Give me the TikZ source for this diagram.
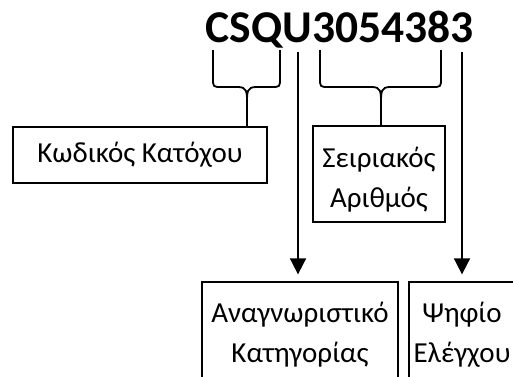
\documentclass[tikz,border=0pt]{standalone}
\usepackage{fontspec}
\setmainfont{Carlito}
\usetikzlibrary{arrows.meta}
\tikzset{
  lbl/.style={font=\fontsize{29}{40}\selectfont, align=center, inner sep=0pt},
  box/.style={draw, line width=1.3pt, inner sep=0pt},
  brace/.style={line width=1.8pt},
  arr/.style={line width=1.8pt, -{Triangle[length=16pt,width=16pt]}},
}
\begin{document}
\begin{tikzpicture}[x=1pt,y=-1pt]
\useasboundingbox (0,0) rectangle (513,376);
\clip (0,0) rectangle (513,376);
% title
\node[font=\fontsize{45.5}{50}\selectfont\bfseries, anchor=base, inner sep=0pt] (title) at (339.5,42) {CSQU3054383};
% boxes
\node[box, minimum width=254pt, minimum height=56pt] (kod) at (140,155) {};
\node[lbl] (kodt) at (kod.center) {Κωδικός Κατόχου};
\node[box, minimum width=132pt, minimum height=96pt] (ser) at (379,174) {};
\node[lbl] (sert) at (379,180) {Σειριακός\\Αριθμός};
\node[box, minimum width=196pt, minimum height=140pt] (cat) at (300,352) {};
\node[lbl] (catt) at (300,335) {Αναγνωριστικό\\Κατηγορίας};
\node[box, minimum width=106pt, minimum height=140pt] (chk) at (462,352) {};
\node[lbl] (chkt) at (462,335) {Ψηφίο\\Ελέγχου};
% braces
\coordinate (lt) at (247,103);
\coordinate (rt) at (381,103);
\draw[brace] (213,50) -- (213,78) .. controls (213,87) .. (222,87) -- (238,87) .. controls (247,87) and (247,92) .. (lt)
  .. controls (247,92) and (247,87) .. (256,87) -- (271,87) .. controls (280,87) .. (280,78) -- (280,50);
\draw[brace] (lt) -- (lt |- kod.north);
\draw[brace] (320,50) -- (320,78) .. controls (320,87) .. (329,87) -- (372,87) .. controls (381,87) and (381,92) .. (rt)
  .. controls (381,92) and (381,87) .. (390,87) -- (432,87) .. controls (441,87) .. (441,78) -- (441,50);
\draw[brace] (rt) -- (rt |- ser.north);
% arrows
\coordinate (c1) at (298,52);
\coordinate (c2) at (462,52);
\draw[arr] (c1) -- ([yshift=7pt]c1 |- cat.north);
\draw[arr] (c2) -- ([yshift=7pt]c2 |- chk.north);
\end{tikzpicture}
\end{document}
